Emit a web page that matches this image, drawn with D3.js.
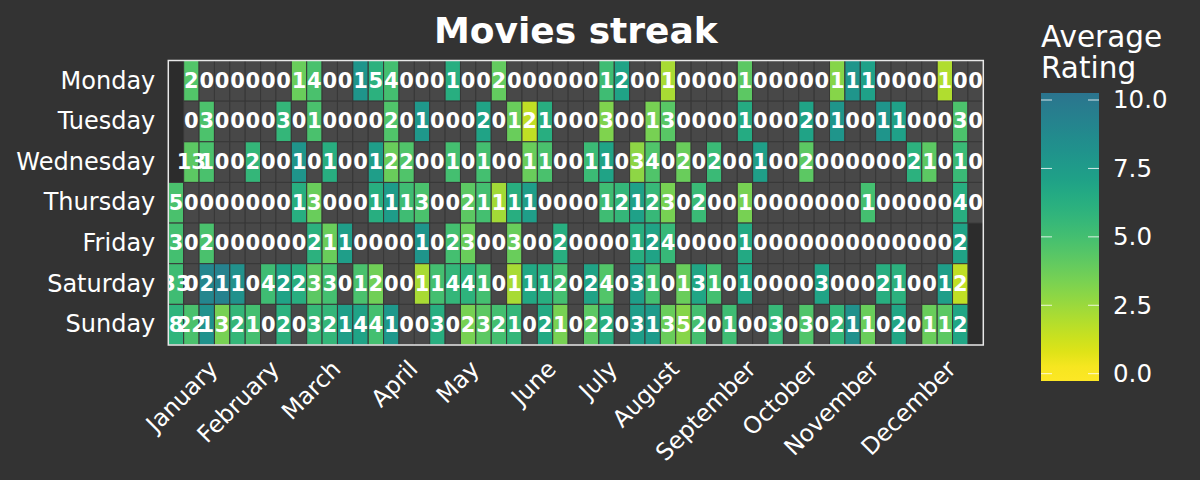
<!DOCTYPE html>
<html><head><meta charset="utf-8">
<script src="https://cdn.jsdelivr.net/npm/d3@7/dist/d3.min.js"></script>
<style>
html,body{margin:0;padding:0;background:#333333;}
svg{display:block;}
</style></head><body>
<svg id="chart" width="1200" height="480"></svg>
<script>
const _ = null;
const days = ["Monday","Tuesday","Wednesday","Thursday","Friday","Saturday","Sunday"];
const months = ["January","February","March","April","May","June","July","August","September","October","November","December"];
const monthTickWeeks = [3,7,11,16,20,25,29,33,38,42,46,51];
const ratingTicks = [0,2.5,5,7.5,10];

// movies watched per day (week columns, null = day outside the year)
const countMonday    = [_,2,0,0,0,0,0,0,1,4, 0,0,1,5,4,0,0,0,1,0, 0,2,0,0,0,0,0,0,1,2, 0,0,1,0,0,0,0,1,0,0, 0,0,0,1,1,1,0,0,0,0, 1,0,0];
const countTuesday   = [_,0,3,0,0,0,0,3,0,1, 0,0,0,0,2,0,1,0,0,0, 2,0,1,2,1,0,0,0,3,0, 0,1,3,0,0,0,0,1,0,0, 0,2,0,1,0,0,1,1,0,0, 0,3,0];
const countWednesday = [_,13,1,0,0,2,0,0,1,0, 1,0,0,1,2,2,0,0,1,0, 1,0,0,1,1,0,0,1,1,0, 3,4,0,2,0,2,0,0,1,0, 0,2,0,0,0,0,0,0,2,1, 0,1,0];
const countThursday  = [5,0,0,0,0,0,0,0,1,3, 0,0,0,1,1,1,3,0,0,2, 1,1,1,1,0,0,0,0,1,2, 1,2,3,0,2,0,0,1,0,0, 0,0,0,0,0,1,0,0,0,0, 0,4,0];
const countFriday    = [3,0,2,0,0,0,0,0,0,2, 1,1,0,0,0,0,1,0,2,3, 0,0,3,0,0,2,0,0,0,0, 1,2,4,0,0,0,0,1,0,0, 0,0,0,0,0,0,0,0,0,0, 0,2,_];
const countSaturday  = [33,0,2,1,1,0,4,2,2,3, 3,0,1,2,0,0,1,1,4,4, 1,0,1,1,1,2,0,2,4,0, 3,1,0,1,3,1,0,1,0,0, 0,0,3,0,0,0,2,1,0,0, 1,2,_];
const countSunday    = [8,22,1,3,2,1,0,2,0,3, 2,1,4,4,1,0,0,3,0,2, 3,2,1,0,2,1,0,2,2,0, 3,1,3,5,2,0,1,0,0,3, 0,3,0,2,1,1,0,2,0,1, 1,2,_];

// average rating per day (null = nothing watched)
const ratingMonday    = [_,4.5,_,_,_,_,_,_,3.8,4.8, _,_,8.0,6.0,5.0,_,_,_,6.2,_, _,4.0,_,_,_,_,_,_,5.2,7.0, _,_,2.2,_,_,_,_,4.2,_,_, _,_,_,3.0,8.0,7.2,_,_,_,_, 2.0,_,_];
const ratingTuesday   = [_,_,4.7,_,_,_,_,5.6,_,4.8, _,_,_,_,4.6,_,7.8,_,_,_, 7.0,_,3.8,1.6,6.2,_,_,_,3.2,_, _,3.4,4.3,_,_,_,_,6.5,_,_, _,7.0,_,8.0,_,_,8.0,7.2,_,_, _,4.7,_];
const ratingWednesday = [_,4.2,4.8,_,_,5.6,_,_,8.0,_, 6.2,_,_,7.4,3.8,4.6,_,_,5.0,_, 5.0,_,_,3.8,4.8,_,_,5.3,7.0,_, 2.8,4.6,_,3.8,_,5.4,_,_,7.3,_, _,4.2,_,_,_,_,_,_,6.0,4.2, _,5.4,_];
const ratingThursday  = [4.8,_,_,_,_,_,_,_,6.2,3.8, _,_,_,6.2,7.5,5.2,4.8,_,_,4.2, 5.0,2.3,6.2,7.4,_,_,_,_,5.2,5.6, 7.2,5.5,3.4,_,5.4,_,_,3.4,_,_, _,_,_,_,_,5.0,_,_,_,_, _,6.2,_];
const ratingFriday    = [5.0,_,4.8,_,_,_,_,_,_,6.0, 3.8,7.4,_,_,_,_,8.0,_,5.0,3.8, _,_,3.8,_,_,6.2,_,_,_,_, 6.2,7.0,5.5,_,_,_,_,6.6,_,_, _,_,_,_,_,_,_,_,_,_, _,7.0,_];
const ratingSaturday  = [5.2,_,9.0,9.3,8.3,_,5.2,7.0,6.2,4.2, 5.0,_,4.8,3.6,_,_,2.2,5.0,5.6,5.9, 5.0,_,2.2,6.7,6.2,5.0,_,7.0,4.5,_, 7.4,5.0,_,3.8,6.8,5.0,_,6.8,_,_, _,_,7.0,_,_,_,6.2,6.0,_,_, 7.4,1.6,_];
const ratingSunday    = [5.8,4.8,8.2,3.4,5.6,5.0,_,6.0,_,5.5, 5.6,7.4,7.0,5.0,7.8,_,_,6.2,_,3.4, 4.2,5.0,5.6,_,6.6,3.4,_,4.2,6.2,_, 7.4,7.6,3.8,3.0,5.0,_,5.2,_,_,5.5, _,4.6,_,5.6,8.3,3.8,_,6.8,_,3.8, 4.2,6.8,_];

const countRows = [countMonday,countTuesday,countWednesday,countThursday,countFriday,countSaturday,countSunday];
const ratingRows = [ratingMonday,ratingTuesday,ratingWednesday,ratingThursday,ratingFriday,ratingSaturday,ratingSunday];

const cells = [];
days.forEach((d,i)=>countRows[i].forEach((c,w)=>{
  if (c!==null) cells.push({day:d, week:w, count:c, rating:ratingRows[i][w]});
}));

// layout
const W=1200, H=480;
const PL=168.3, PR=983.3, PT=60.5, PB=345;
const FONT='"DejaVu Sans", sans-serif';

const svg = d3.select("#chart");
svg.append("rect").attr("width",W).attr("height",H).attr("fill","#333333");

const x = d3.scaleBand().domain(d3.range(countMonday.length)).range([PL,PR]);
const y = d3.scaleBand().domain(days).range([PT,PB]);
const tScale = d3.scaleLinear().domain([0,10]).range([1,0.4]);
const color = v => d3.interpolateViridis(tScale(v));

svg.append("defs").append("clipPath").attr("id","plotclip")
  .append("rect").attr("x",PL).attr("y",PT).attr("width",PR-PL).attr("height",PB-PT);

svg.append("rect").attr("x",PL).attr("y",PT).attr("width",PR-PL).attr("height",PB-PT).attr("fill","#2c2c2c");

svg.append("g").selectAll("rect").data(cells).join("rect")
  .attr("x",d=>x(d.week)).attr("y",d=>y(d.day))
  .attr("width",x.bandwidth()).attr("height",y.bandwidth())
  .attr("fill",d=>d.count===0||d.rating===null?"#484848":color(d.rating))
  .attr("stroke","#383838").attr("stroke-width",1);

svg.append("g").attr("clip-path","url(#plotclip)")
  .selectAll("text").data(cells).join("text")
  .attr("x",d=>x(d.week)+x.bandwidth()/2)
  .attr("y",d=>y(d.day)+y.bandwidth()/2)
  .attr("text-anchor","middle").attr("dominant-baseline","central")
  .attr("font-family",FONT).attr("font-weight","bold").attr("font-size",21)
  .attr("fill","#ffffff")
  .text(d=>d.count);

svg.append("rect").attr("x",PL).attr("y",PT).attr("width",PR-PL).attr("height",PB-PT)
  .attr("fill","none").attr("stroke","#e8e8e8").attr("stroke-width",1.5);

// y axis
const gy = svg.append("g").attr("transform",`translate(${PL},0)`)
  .call(d3.axisLeft(y).tickSize(0).tickPadding(13));
gy.select(".domain").remove();
gy.selectAll("text").attr("font-family",FONT).attr("font-size",24).attr("fill","#ffffff");

// x axis
const gx = svg.append("g").attr("transform",`translate(0,${PB})`)
  .call(d3.axisBottom(x).tickValues(monthTickWeeks).tickFormat((d,i)=>months[i]).tickSize(0));
gx.select(".domain").remove();
gx.selectAll(".tick").attr("transform",d=>`translate(${x(d)+x.bandwidth()/2},0)`);
gx.selectAll("text")
  .attr("font-family",FONT).attr("font-size",23.5).attr("fill","#ffffff")
  .attr("text-anchor","end").attr("dy",null).attr("y",null)
  .attr("transform",`translate(-3,25.5) rotate(-45)`);

// title
svg.append("text").attr("x",(PL+PR)/2).attr("y",43).attr("text-anchor","middle")
  .attr("font-family",FONT).attr("font-weight","bold").attr("font-size",36).attr("fill","#ffffff")
  .text("Movies streak");

// colorbar
const CBX=1041, CBW=58, CBT=93, CBB=381;
const cy = d3.scaleLinear().domain([0,10]).range([373.7,100]);
const grad = svg.select("defs").append("linearGradient").attr("id","cbgrad")
  .attr("x1",0).attr("y1",1).attr("x2",0).attr("y2",0);
const vLo = cy.invert(CBB), vHi = cy.invert(CBT);
d3.range(0,1.0001,0.05).forEach(f=>{
  grad.append("stop").attr("offset",f).attr("stop-color",color(vLo+(vHi-vLo)*f));
});
svg.append("rect").attr("x",CBX).attr("y",CBT).attr("width",CBW).attr("height",CBB-CBT).attr("fill","url(#cbgrad)");
const tickG = svg.append("g");
ratingTicks.forEach(v=>{
  tickG.append("line").attr("x1",CBX).attr("x2",CBX+11).attr("y1",cy(v)).attr("y2",cy(v)).attr("stroke","#ffffff").attr("stroke-opacity",0.8);
  tickG.append("line").attr("x1",CBX+CBW-11).attr("x2",CBX+CBW).attr("y1",cy(v)).attr("y2",cy(v)).attr("stroke","#ffffff").attr("stroke-opacity",0.8);
});
const gc = svg.append("g").attr("transform",`translate(${CBX+CBW},0)`)
  .call(d3.axisRight(cy).tickValues(ratingTicks).tickFormat(d3.format(".1f")).tickSize(0).tickPadding(14));
gc.select(".domain").remove();
gc.selectAll("text").attr("font-family",FONT).attr("font-size",24.5).attr("fill","#ffffff");

const cbTitle = svg.append("text").attr("font-family",FONT).attr("font-size",29.5).attr("fill","#ffffff");
cbTitle.append("tspan").attr("x",CBX).attr("y",47).text("Average");
cbTitle.append("tspan").attr("x",CBX).attr("y",78).text("Rating");
</script>
</body></html>
